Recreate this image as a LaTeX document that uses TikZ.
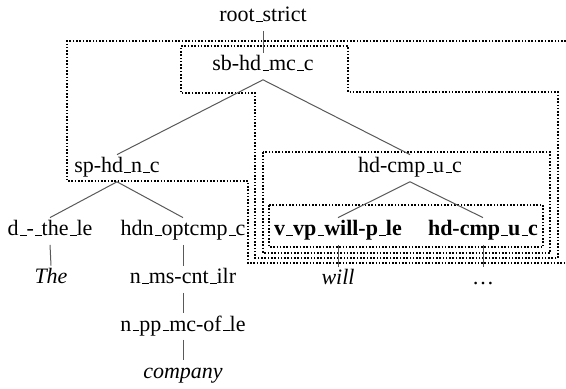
\documentclass[tikz,border=0pt]{standalone}
\usepackage{fontspec}
\setmainfont{Liberation Serif}
\newcommand\us{\kern.06em\vbox{\hrule width.3em}}
\begin{document}
\begin{tikzpicture}[x=0.5pt,y=-0.5pt,
  tn/.style={inner sep=0pt, outer sep=2.4pt, anchor=base, text height=0.68em, text depth=0.2em, font=\fontsize{11}{13}\selectfont},
  edge/.style={draw=black!65, line width=0.5pt},
  region/.style={draw=black, line width=0.8pt, dash pattern=on 0.8pt off 0.85pt}]
\useasboundingbox (0,0) rectangle (566,389);
% regions
\draw[region] (566,41) -- (67,41) -- (67,181) -- (248,181) -- (248,263) -- (566,263);
\draw[region] (181,46) -- (348,46) -- (348,92) -- (558,92) -- (558,258) -- (255,258) -- (255,93) -- (181,93) -- cycle;
\draw[region] (263,152) rectangle (550,253);
\draw[region] (269,205) rectangle (543,247);
% nodes
\node[tn] (root) at (263,22) {root\us strict};
\node[tn] (sb) at (263,71) {sb-hd\us mc\us c};
\node[tn] (sp) at (117,173) {sp-hd\us n\us c};
\node[tn] (hc) at (410,173) {hd-cmp\us u\us c};
\node[tn] (dthe) at (50,236) {d\us-\us the\us le};
\node[tn] (hdn) at (183,236) {hdn\us optcmp\us c};
\node[tn] (vvp) at (338,236) {\bfseries v\us vp\us will-p\us le};
\node[tn] (hcb) at (483,236) {\bfseries hd-cmp\us u\us c};
\node[tn] (the) at (51,284) {\itshape The};
\node[tn] (nms) at (183,284) {n\us ms-cnt\us ilr};
\node[tn] (npp) at (183,331) {n\us pp\us mc-of\us le};
\node[tn] (comp) at (183,378) {\itshape company};
\node[tn] (will) at (338,285) {\itshape will};
\node[tn] (dots) at (483,285) {\ldots};
% edges
\draw[edge] (root.south) -- (sb.north);
\draw[edge] (sb.south) -- (sp.north);
\draw[edge] (sb.south) -- (hc.north);
\draw[edge] (sp.south) -- (dthe.north);
\draw[edge] (sp.south) -- (hdn.north);
\draw[edge] (hc.south) -- (vvp.north);
\draw[edge] (hc.south) -- (hcb.north);
\draw[edge] (dthe.south) -- (the.north);
\draw[edge] (hdn.south) -- (nms.north);
\draw[edge] (nms.south) -- (npp.north);
\draw[edge] (npp.south) -- (comp.north);
\draw[edge] (vvp.south) -- (will.north);
\draw[edge] (hcb.south) -- (dots.north);
\end{tikzpicture}
\end{document}
